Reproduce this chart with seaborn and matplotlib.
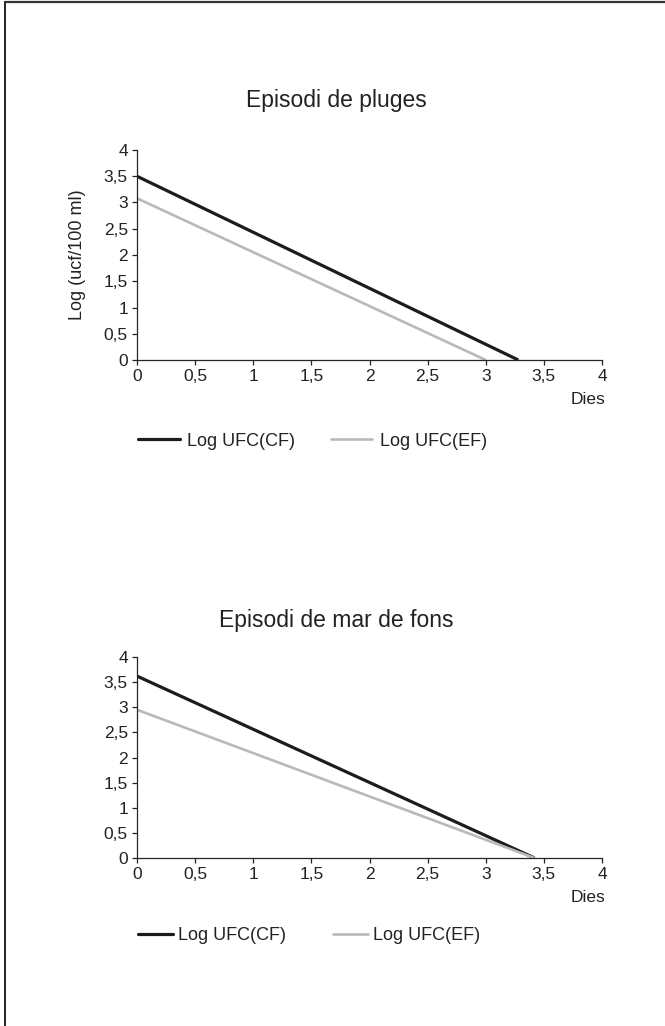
import matplotlib
matplotlib.use("Agg")
import matplotlib.pyplot as plt
from matplotlib.lines import Line2D
from matplotlib.ticker import FuncFormatter, MultipleLocator
import seaborn as sns
import pandas as pd

# ---- data ----
series_names = ["Log UFC(CF)", "Log UFC(EF)"]
series_colors = ["#1c1c1c", "#b9b9bb"]

rain_title = "Episodi de pluges"
rain_cf_days = [0.0, 3.28]
rain_cf_log = [3.5, 0.0]
rain_ef_days = [0.0, 3.0]
rain_ef_log = [3.08, 0.0]

sea_title = "Episodi de mar de fons"
sea_cf_days = [0.0, 3.42]
sea_cf_log = [3.62, 0.0]
sea_ef_days = [0.0, 3.42]
sea_ef_log = [2.95, 0.0]

x_label = "Dies"
y_label = "Log (ucf/100 ml)"

sns.set_style("ticks")
plt.rcParams["font.family"] = ["Liberation Sans", "DejaVu Sans"]
plt.rcParams["axes.linewidth"] = 0.9
plt.rcParams["xtick.major.width"] = 0.9
plt.rcParams["ytick.major.width"] = 0.9
plt.rcParams["xtick.major.size"] = 3.5
plt.rcParams["ytick.major.size"] = 3.5
plt.rcParams["xtick.color"] = "#222222"
plt.rcParams["ytick.color"] = "#222222"

W, H = 665, 1026
fig = plt.figure(figsize=(W / 100, H / 100), dpi=100)


def build_df(cf_x, cf_y, ef_x, ef_y):
    rows = []
    for xv, yv in zip(cf_x, cf_y):
        rows.append({"Dies": xv, "Log": yv, "Serie": series_names[0]})
    for xv, yv in zip(ef_x, ef_y):
        rows.append({"Dies": xv, "Log": yv, "Serie": series_names[1]})
    return pd.DataFrame(rows)


fmt = FuncFormatter(lambda v, p: (f"{v:g}").replace(".", ","))


def panel(rect, df, title, title_y, dies_y, legend_y, ylabel, lw_cf, lw_ef,
          hlen, hpad, cspace):
    ax = fig.add_axes(rect)
    sns.lineplot(data=df, x="Dies", y="Log", hue="Serie", hue_order=series_names,
                 palette=series_colors, ax=ax, legend=False, estimator=None, sort=False)
    for line, lw in zip(ax.get_lines(), [lw_cf, lw_ef]):
        line.set_linewidth(lw)
        line.set_solid_capstyle("butt")
    ax.set_xlim(0, 4)
    ax.set_ylim(0, 4)
    ax.xaxis.set_major_locator(MultipleLocator(0.5))
    ax.yaxis.set_major_locator(MultipleLocator(0.5))
    ax.xaxis.set_major_formatter(fmt)
    ax.yaxis.set_major_formatter(fmt)
    ax.tick_params(labelsize=12.5, colors="#222222", pad=3)
    sns.despine(ax=ax)
    ax.set_xlabel("")
    ax.set_ylabel(ylabel, fontsize=13, color="#222222", labelpad=13)
    fig.text(336 / W, 1 - title_y / H, title, ha="center", va="center",
             fontsize=16.5, color="#222222")
    fig.text(605 / W, 1 - dies_y / H, x_label, ha="right", va="center",
             fontsize=12.5, color="#222222")
    handles = [Line2D([], [], color=c, lw=l) for c, l in zip(series_colors, [lw_cf, lw_ef])]
    fig.legend(handles, series_names, loc="center left",
               bbox_to_anchor=(138 / W, 1 - legend_y / H), ncol=2, frameon=False,
               fontsize=13, handlelength=hlen, handletextpad=hpad, columnspacing=cspace,
               borderpad=0, borderaxespad=0, labelcolor="#222222")
    return ax


top_rect = [137 / W, 1 - 360 / H, (602 - 137) / W, (360 - 150) / H]
bot_rect = [137 / W, 1 - 858 / H, (602 - 137) / W, (858 - 657) / H]

panel(top_rect, build_df(rain_cf_days, rain_cf_log, rain_ef_days, rain_ef_log),
      rain_title, 100, 400, 441, y_label, 2.3, 1.9, 2.3, 0.4, 2.0)
panel(bot_rect, build_df(sea_cf_days, sea_cf_log, sea_ef_days, sea_ef_log),
      sea_title, 621, 898, 936, "", 2.3, 1.9, 1.95, 0.28, 2.6)

# page border (left and top)
fig.add_artist(Line2D([5 / W, 5 / W], [0, 1 - 2 / H], color="#111111", lw=1.3,
                      transform=fig.transFigure))
fig.add_artist(Line2D([5 / W, 1], [1 - 2 / H, 1 - 2 / H], color="#333333", lw=1.6,
                      transform=fig.transFigure))

fig.savefig("out.png", dpi=100, facecolor="white")
